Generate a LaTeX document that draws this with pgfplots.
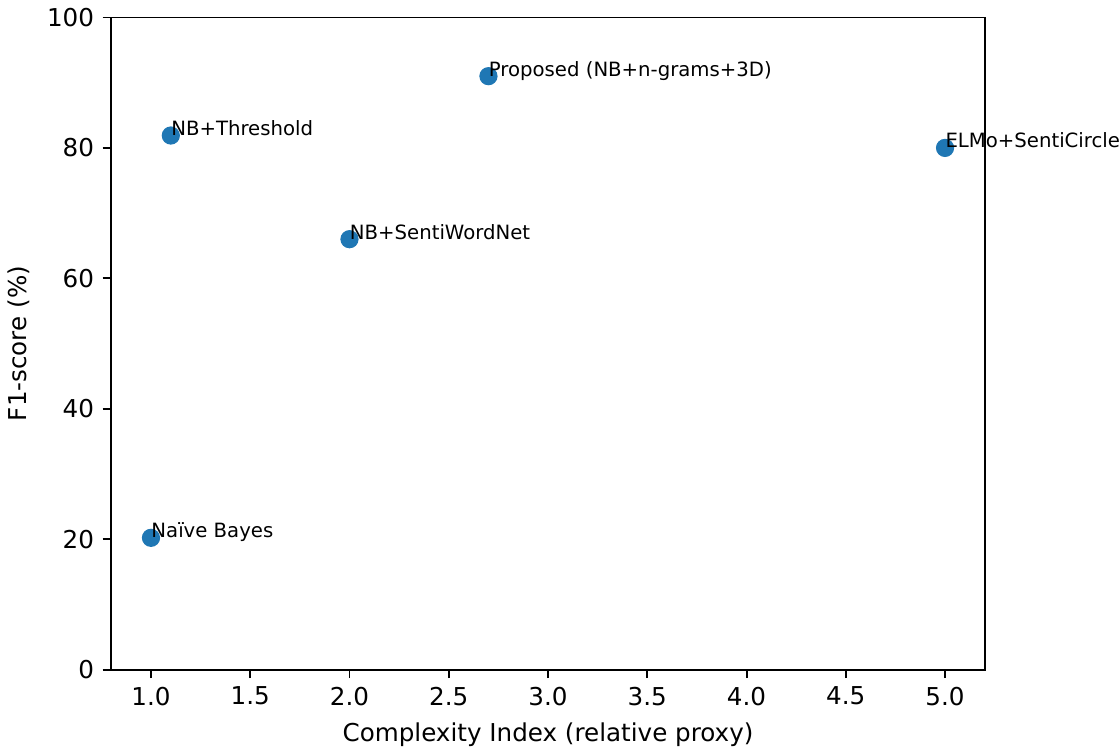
\documentclass[border=0pt]{standalone}
\usepackage{pgfplots}
\pgfplotsset{compat=1.18}
\usepackage{fontspec}
\setmainfont{DejaVu Sans}
\definecolor{tabblue}{HTML}{1F77B4}
\begin{document}
\begin{tikzpicture}
\begin{axis}[
  scale only axis,
  width=355pt, height=265pt,
  xmin=0.8, xmax=5.2, ymin=0, ymax=100,
  xtick={1,1.5,...,5},
  ytick={0,20,...,100},
  xticklabel style={/pgf/number format/.cd, fixed, fixed zerofill, precision=1},
  /pgf/number format/assume math mode=true,
  tick label style={font=\fontsize{10}{12}\selectfont},
  label style={font=\fontsize{10}{12}\selectfont},
  xlabel={Complexity Index (relative proxy)},
  ylabel={F1-score (\%)},
  tick align=outside,
  xtick pos=bottom, ytick pos=left,
  major tick length=3.5pt,
  every tick/.style={black, line width=0.8pt},
  axis line style={line width=0.8pt},
  clip=false,
  point meta=explicit symbolic,
  nodes near coords={\pgfplotspointmeta},
  every node near coord/.style={anchor=base west, inner sep=0pt,
    font=\fontsize{8}{9.6}\selectfont, text=black},
]
\addplot[only marks, mark=*, mark size=3.5pt, color=tabblue]
  coordinates {
    (1.0,20.2) [Naïve Bayes]
    (1.1,81.9) [NB+Threshold]
    (2.0,66.0) [NB+SentiWordNet]
    (2.7,91.0) [{Proposed (NB+n-grams+3D)}]
    (5.0,80.0) [ELMo+SentiCircle]
  };
\end{axis}
\end{tikzpicture}
\end{document}
